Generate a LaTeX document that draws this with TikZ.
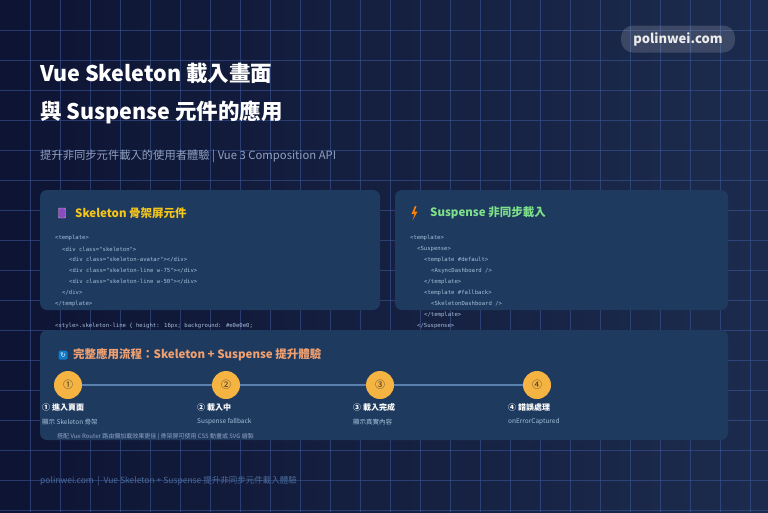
\documentclass[tikz,border=0pt]{standalone}
\usepackage{fontspec}
\setmainfont{Noto Sans CJK TC}
\newfontfamily\codefont{DejaVu Sans Mono}
\newfontfamily\symfont{DejaVu Sans}
\usetikzlibrary{shadings}
\definecolor{bgA}{HTML}{0E1433}
\definecolor{bgB}{HTML}{1C2B4D}
\definecolor{gridc}{HTML}{3D5A9E}
\definecolor{card}{HTML}{1E3A5F}
\definecolor{codec}{HTML}{A8C0DA}
\definecolor{yel}{HTML}{F5C518}
\definecolor{grn}{HTML}{7EE08A}
\definecolor{org}{HTML}{F0A070}
\definecolor{circ}{HTML}{F5B342}
\definecolor{conn}{HTML}{5A80B0}
\definecolor{subc}{HTML}{8FA0C0}
\definecolor{footc}{HTML}{4A6A9A}
\tikzset{
 cardbox/.style={fill=card,rounded corners=7pt,draw=none},
 code/.style={anchor=west,inner sep=0,text=codec,font=\codefont\fontsize{5.6}{6}\selectfont},
 ctitle/.style={anchor=west,inner sep=0,font=\bfseries\fontsize{11.5}{13}\selectfont},
 stepc/.style={circle,fill=circ,minimum size=28pt,inner sep=0,text=black!80,font=\fontsize{10}{11}\selectfont},
 steplab/.style={anchor=west,inner sep=0,text=white,font=\bfseries\fontsize{8}{9}\selectfont},
 stepsub/.style={anchor=west,inner sep=0,text=codec,font=\fontsize{6.5}{7}\selectfont},
 conline/.style={draw=conn,line width=1.2pt}
}
\begin{document}
\begin{tikzpicture}[x=1pt,y=-1pt]
\useasboundingbox (0,0) rectangle (768,512);
\shade[left color=bgA,right color=bgB] (0,0) rectangle (768,512);
\foreach \i in {30,60,...,750} \draw[gridc,opacity=0.55,line width=0.8pt] (\i,0) -- (\i,512);
\foreach \j in {30,60,...,510} \draw[gridc,opacity=0.55,line width=0.8pt] (0,\j) -- (768,\j);
% badge
\node[fill=white,fill opacity=0.15,text opacity=1,rounded corners=12pt,minimum width=114pt,minimum height=27pt,text=white!85!gray,font=\bfseries\fontsize{13}{14}\selectfont] (badge) at (678,39) {polinwei.com};
% title
\node[anchor=west,inner sep=0,text=white,font=\bfseries\fontsize{21.5}{24}\selectfont] (t1) at (40,73) {Vue Skeleton 載入畫面};
\node[anchor=west,inner sep=0,text=white,font=\bfseries\fontsize{21.5}{24}\selectfont] (t2) at (40,112) {與 Suspense 元件的應用};
\node[anchor=west,inner sep=0,text=subc,font=\fontsize{11.3}{13}\selectfont] (sub) at (40,156) {提升非同步元件載入的使用者體驗 | Vue 3 Composition API};
% cards
\fill[cardbox] (40,190) rectangle (380,310);
\fill[cardbox] (395,190) rectangle (728,310);
\node[fill=purple!45!blue!70,draw=purple!30!white,line width=0.4pt,minimum width=7pt,minimum height=10pt,inner sep=0,rounded corners=1pt] (ic1) at (62,213) {};
\fill[orange] (415,206) -- (411.5,214) -- (414.5,214) -- (412.5,220.5) -- (417.5,211.5) -- (414.5,211.5) -- (416.5,206) -- cycle;
\node[ctitle,text=yel] (c1t) at (75,213) {Skeleton 骨架屏元件};
\node[code] (a1) at (55,238) {<template>};
\node[code] (a2) at (62,249) {<div class="skeleton">};
\node[code] (a3) at (69,260) {<div class="skeleton-avatar"></div>};
\node[code] (a4) at (69,271) {<div class="skeleton-line w-75"></div>};
\node[code] (a5) at (69,282) {<div class="skeleton-line w-50"></div>};
\node[code] (a6) at (62,293) {</div>};
\node[code] (a7) at (55,304) {</template>};
\node[code] (a8) at (55,326) {<style>.skeleton-line \{ height: 16px; background: \#e0e0e0;};
\node[ctitle,text=grn] (c2t) at (430,213) {Suspense 非同步載入};
\node[code] (b1) at (410,238) {<template>};
\node[code] (b2) at (417,249) {<Suspense>};
\node[code] (b3) at (424,260) {<template \#default>};
\node[code] (b4) at (431,271) {<AsyncDashboard />};
\node[code] (b5) at (424,282) {</template>};
\node[code] (b6) at (424,293) {<template \#fallback>};
\node[code] (b7) at (431,304) {<SkeletonDashboard />};
\node[code] (b8) at (424,315) {</template>};
\node[code] (b9) at (417,326) {</Suspense>};
% flow card
\fill[cardbox] (40,330) rectangle (728,440);
\node[fill=cyan!60!blue,rounded corners=1.5pt,minimum size=9pt,inner sep=0,text=white,font=\symfont\fontsize{6.5}{6}\selectfont] (ic3) at (63,355) {↻};
\node[ctitle,text=org] (c3t) at (73,355) {完整應用流程：Skeleton + Suspense 提升體驗};
\node[stepc] (s1) at (68,385) {①};
\node[stepc] (s2) at (226,385) {②};
\node[stepc] (s3) at (380,385) {③};
\node[stepc] (s4) at (537,385) {④};
\draw[conline] (s1) -- (s2);
\draw[conline] (s2) -- (s3);
\draw[conline] (s3) -- (s4);
\node[steplab] (l1) at (42,407) {① 進入頁面};
\node[steplab] (l2) at (197,407) {② 載入中};
\node[steplab] (l3) at (353,407) {③ 載入完成};
\node[steplab] (l4) at (508,407) {④ 錯誤處理};
\node[stepsub] (d1) at (42,422) {顯示 Skeleton 骨架};
\node[stepsub] (d2) at (197,422) {Suspense fallback};
\node[stepsub] (d3) at (353,422) {顯示真實內容};
\node[stepsub] (d4) at (508,422) {onErrorCaptured};
\node[anchor=west,inner sep=0,text=subc,font=\fontsize{6}{7}\selectfont] (note) at (57,437) {搭配 Vue Router 路由懶加載效果更佳 | 骨架屏可使用 CSS 動畫或 SVG 繪製};
\node[anchor=west,inner sep=0,text=footc,font=\fontsize{8.5}{10}\selectfont] (foot) at (40,481) {polinwei.com \ | \ Vue Skeleton + Suspense 提升非同步元件載入體驗};
\end{tikzpicture}
\end{document}
